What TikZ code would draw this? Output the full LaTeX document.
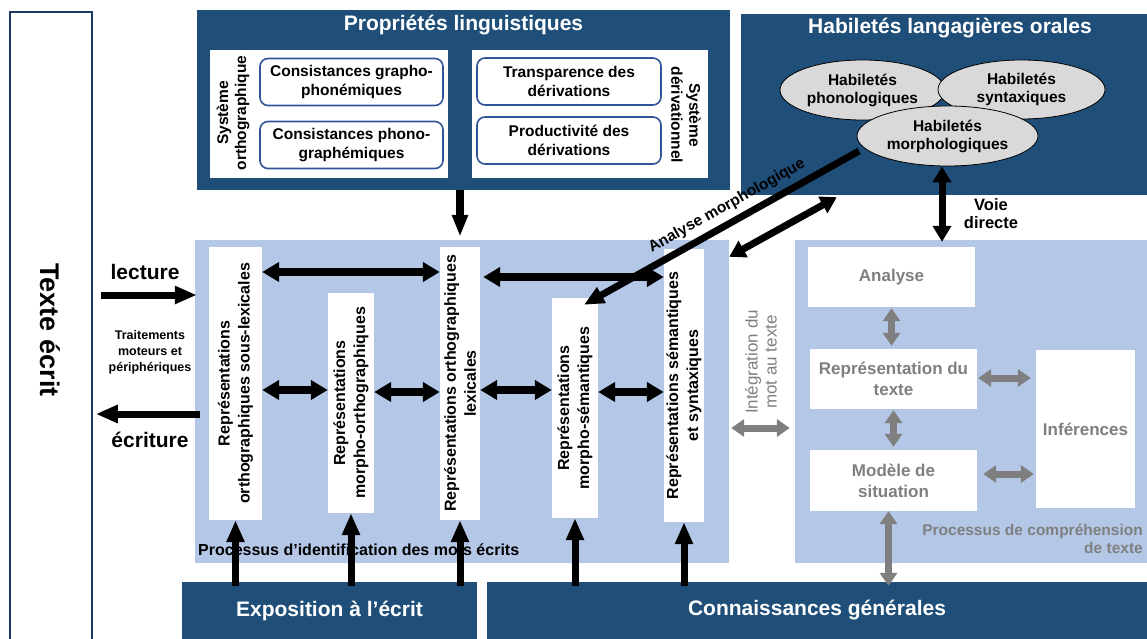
\documentclass[tikz,border=0pt]{standalone}
\usepackage{fontspec}
\setmainfont{Liberation Sans}
\usetikzlibrary{arrows.meta,shapes.geometric}
\definecolor{dblue}{HTML}{1F4E79}
\definecolor{lblue}{HTML}{B4C7E7}
\definecolor{navy}{HTML}{203864}
\definecolor{rbord}{HTML}{2F5597}
\definecolor{ellg}{HTML}{D9D9D9}
\definecolor{gtext}{HTML}{7F7F7F}
\newcommand{\myfs}[2]{\fontsize{#1}{#2}\selectfont}
\tikzset{
  panel/.style={fill=dblue, inner sep=0pt},
  wbox/.style={fill=white, inner sep=0pt},
  bgbox/.style={fill=lblue, inner sep=0pt},
  rbox/.style={draw=rbord, line width=1.6pt, rounded corners=8pt, fill=white, inner sep=0pt, align=center, font=\myfs{15.5}{19}\bfseries},
  title/.style={text=white, font=\myfs{21}{25}\bfseries},
  vtxt/.style={rotate=90, align=center, font=\myfs{16}{20}\bfseries},
  gbox/.style={fill=white, inner sep=0pt, align=center, text=gtext, font=\myfs{17}{21}\bfseries},
  hab/.style={ellipse, draw=black, line width=0.8pt, fill=ellg, inner sep=0pt, align=center, font=\myfs{15.5}{18}\bfseries},
  single/.style={line width=7pt, -{Triangle[length=22pt,width=17pt]}},
  dbl/.style={line width=8pt, {Triangle[length=17pt,width=19pt]}-{Triangle[length=17pt,width=19pt]}},
  dblb/.style={line width=7pt, {Triangle[length=16pt,width=18pt]}-{Triangle[length=16pt,width=18pt]}},
  gdbl/.style={line width=7pt, draw=gtext, {Triangle[length=13pt,width=17pt]}-{Triangle[length=13pt,width=17pt]}},
}
\begin{document}
\begin{tikzpicture}[x=1pt,y=-1pt]
\path[use as bounding box] (0,0) rectangle (1147,639);
\clip (0,0) rectangle (1147,639);

% light backgrounds
\node[bgbox, minimum width=534pt, minimum height=323pt] (idbg) at (462,401.5) {};
\node[bgbox, minimum width=352pt, minimum height=323pt] (cpbg) at (971,401.5) {};

% Texte ecrit
\node[draw=navy, line width=1.5pt, fill=white, inner sep=0pt, minimum width=82pt, minimum height=640pt] (texte) at (51,332) {};
\node[rotate=-90, font=\myfs{27}{30}\bfseries] (textelab) at (50,330) {Texte écrit};

% Proprietes linguistiques
\node[panel, minimum width=533pt, minimum height=180pt] (prop) at (463.5,100) {};
\node[title] (proptitle) at (463.5,25) {Propriétés linguistiques};
\node[wbox, minimum width=238pt, minimum height=128pt] (orth) at (329,114) {};
\node[wbox, minimum width=236pt, minimum height=128pt] (deriv) at (590,114) {};
\node[rbox, minimum width=183pt, minimum height=47pt] (cgp) at (351.5,82) {Consistances grapho-\\phonémiques};
\node[rbox, minimum width=183pt, minimum height=47pt] (cpg) at (351.5,145) {Consistances phono-\\graphémiques};
\node[rbox, minimum width=184pt, minimum height=47pt] (tdv) at (569,81.5) {Transparence des\\dérivations};
\node[rbox, minimum width=184pt, minimum height=47pt] (pdv) at (569,140.5) {Productivité des\\dérivations};
\node[vtxt, font=\myfs{15.5}{18}\bfseries] (sortho) at (233,113) {Système\\orthographique};
\node[vtxt, rotate=180, font=\myfs{15.5}{18}\bfseries] (sderiv) at (686,115) {Système\\dérivationnel};

% Habiletes langagieres orales
\node[panel, minimum width=406pt, minimum height=181pt] (hab) at (944,104.5) {};
\node[title] (habtitle) at (950,28) {Habiletés langagières orales};
\node[hab, minimum width=165pt, minimum height=60pt] (phon) at (862.5,90) {Habiletés\\phonologiques};
\node[hab, minimum width=167pt, minimum height=59pt] (synt) at (1021.5,89.5) {Habiletés\\syntaxiques};
\node[hab, minimum width=181pt, minimum height=60pt] (morph) at (947.5,136) {Habiletés\\morphologiques};

% bottom panels
\node[panel, minimum width=295pt, minimum height=57pt, text=white, font=\myfs{21}{25}\bfseries] (expo) at (329.5,610.5) {Exposition à l’écrit};
\node[panel, minimum width=660pt, minimum height=57pt, text=white, font=\myfs{21}{25}\bfseries] (conn) at (817,610.5) {Connaissances générales};

% left labels
\node[font=\myfs{21}{25}\bfseries] (lect) at (145,272) {lecture};
\node[align=center, font=\myfs{12.5}{16}\bfseries] (trait) at (150,352) {Traitements\\moteurs et\\périphériques};
\node[font=\myfs{21}{25}\bfseries] (ecri) at (150,440) {écriture};

% identification label
\node[anchor=west, inner sep=0pt, font=\myfs{16}{19}\bfseries] (idlab) at (198,550) {Processus d’identification des mots écrits};

% representation boxes
\node[wbox, minimum width=53pt, minimum height=273pt] (b1) at (235.5,383.5) {};
\node[wbox, minimum width=46pt, minimum height=220pt] (b2) at (351,403) {};
\node[wbox, minimum width=40pt, minimum height=273pt] (b3) at (460,383.5) {};
\node[wbox, minimum width=46pt, minimum height=220pt] (b4) at (575,408) {};
\node[wbox, minimum width=40pt, minimum height=273pt] (b5) at (684,385.5) {};
\node[vtxt] (t1) at (b1) {Représentations\\orthographiques sous-lexicales};
\node[vtxt] (t2) at (b2) {Représentations\\morpho-orthographiques};
\node[vtxt] (t3) at (b3) {Représentations orthographiques\\lexicales};
\node[vtxt] (t4) at (b4) {Représentations\\morpho-sémantiques};
\node[vtxt] (t5) at (b5) {Représentations sémantiques\\et syntaxiques};

% comprehension boxes
\node[gbox, minimum width=167pt, minimum height=60pt] (an) at (891.5,277) {Analyse};
\node[gbox, minimum width=167pt, minimum height=60pt] (rep) at (893.5,379) {Représentation du\\texte};
\node[gbox, minimum width=167pt, minimum height=61pt] (mod) at (893.5,480.5) {Modèle de\\situation};
\node[gbox, minimum width=99pt, minimum height=158pt] (inf) at (1085.5,429) {Inférences};
\node[anchor=east, align=right, inner sep=0pt, text=gtext, font=\myfs{15.5}{18}\bfseries] (cplab) at (1143,538.5) {Processus de compréhension\\de texte};
\node[rotate=90, align=center, text=gtext, font=\myfs{17}{19}] (integ) at (761,362) {Intégration du\\mot au texte};

% other labels
\node[align=center, font=\myfs{16.5}{18}\bfseries] (voie) at (991,214) {Voie\\directe};
\node[rotate=29.25, font=\myfs{15.5}{18}\bfseries] (amlab) at (727,206) {Analyse morphologique};

% black arrows
\draw[single, shorten <=8pt, shorten >=-2pt] (texte.east |- 0,295) -- (idbg.west |- 0,295);
\draw[single, shorten <=-5pt, shorten >=3pt] (idbg.west |- 0,414) -- (texte.east |- 0,414);
\draw[single, line width=8pt, -{Triangle[length=22pt,width=15pt]}, shorten >=3pt] (b3 |- prop.south) -- (b3 |- idbg.north);
\draw[dbl] (b1.east |- 0,272) -- (b3.west |- 0,272);
\draw[dbl, shorten <=3pt] (b3.east |- 0,277) -- (b5.west |- 0,277);
\draw[dbl] (b1.east |- 0,390) -- (b2.west |- 0,390);
\draw[dbl] (b2.east |- 0,392) -- (b3.west |- 0,392);
\draw[dbl] (b3.east |- 0,390) -- (b4.west |- 0,390);
\draw[dbl] (b4.east |- 0,392) -- (b5.west |- 0,392);
\draw[single, shorten <=-4pt] (b1 |- expo.north) -- (b1.south);
\draw[single, shorten <=-4pt] (b2 |- expo.north) -- (b2.south);
\draw[single, shorten <=-4pt] (b3 |- expo.north) -- (b3.south);
\draw[single, shorten <=-4pt] (b4 |- conn.north) -- (b4.south);
\draw[single, shorten <=-4pt] (b5 |- conn.north) -- (b5.south);

\coordinate (vd) at ([xshift=-5.5pt]morph.south);
\draw[dblb, shorten >=-2pt] (vd) -- (vd |- cpbg.north);
\coordinate (am1) at (859,151);
\draw[single, -{Triangle[length=20pt,width=17pt]}] (am1) -- ([xshift=9pt,yshift=-7pt]b4.north);
\draw[dblb] ([xshift=96pt,yshift=-2pt]hab.south west) -- ([yshift=-17pt]idbg.north east);

% grey arrows
\draw[gdbl, shorten <=2pt, shorten >=5pt] (idbg.east |- 0,428) -- (cpbg.west |- 0,428);
\draw[gdbl, shorten <=1pt, shorten >=3pt] (an.south) -- (an.south |- rep.north);
\draw[gdbl, shorten <=1pt, shorten >=3pt] (rep.south) -- (mod.north);
\draw[gdbl, shorten <=1pt, shorten >=5pt] (rep.east |- 0,378) -- (inf.west |- 0,378);
\draw[gdbl, shorten <=6pt, shorten >=2pt] (mod.east |- 0,474) -- (inf.west |- 0,474);
\draw[gdbl, shorten >=-4pt] ([xshift=-5pt]mod.south) -- ([xshift=-5pt]mod.south |- conn.north);
\end{tikzpicture}
\end{document}
